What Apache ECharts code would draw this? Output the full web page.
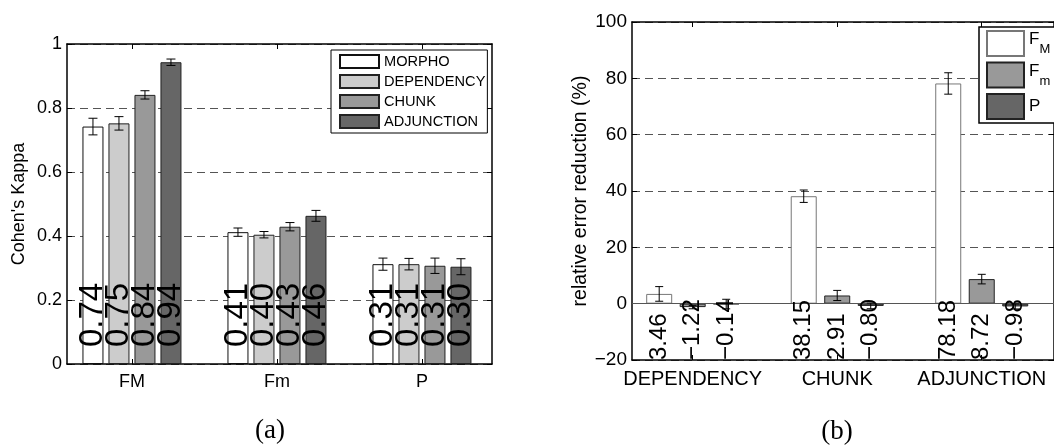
<!DOCTYPE html>
<html><head><meta charset="utf-8">
<script src="https://cdn.jsdelivr.net/npm/echarts@6/dist/echarts.min.js"></script>
<style>html,body{margin:0;padding:0;background:#fff}#c{width:1054px;height:447px}</style>
</head><body><div id="c"></div>
<script>
// ---------- data: panel (a) ----------
const CATS_A = ['FM', 'Fm', 'P'];
const NAMES_A = ['MORPHO', 'DEPENDENCY', 'CHUNK', 'ADJUNCTION'];
const MORPHO = [0.742, 0.412, 0.312];
const DEPENDENCY = [0.752, 0.404, 0.312];
const CHUNK = [0.841, 0.429, 0.307];
const ADJUNCTION = [0.943, 0.463, 0.304];
const MORPHO_ERR = [0.026, 0.013, 0.019];
const DEPENDENCY_ERR = [0.021, 0.010, 0.018];
const CHUNK_ERR = [0.013, 0.013, 0.024];
const ADJUNCTION_ERR = [0.010, 0.017, 0.025];
const TICKS_A = [0, 0.2, 0.4, 0.6, 0.8, 1];

// ---------- data: panel (b) ----------
const CATS_B = ['DEPENDENCY', 'CHUNK', 'ADJUNCTION'];
const NAMES_B = ['FM', 'Fm', 'P'];
const F_M = [3.46, 38.15, 78.18];
const F_m = [-1.22, 2.91, 8.72];
const P_B = [-0.14, -0.80, -0.98];
const F_M_ERR = [2.6, 2.2, 3.8];
const F_m_ERR = [0.6, 1.8, 1.7];
const P_B_ERR = [1.7, 1.0, 0.9];
const TICKS_B = [-20, 0, 20, 40, 60, 80, 100];

// ---------- styling / layout ----------
const VALS_A = [MORPHO, DEPENDENCY, CHUNK, ADJUNCTION];
const ERRS_A = [MORPHO_ERR, DEPENDENCY_ERR, CHUNK_ERR, ADJUNCTION_ERR];
const VALS_B = [F_M, F_m, P_B];
const ERRS_B = [F_M_ERR, F_m_ERR, P_B_ERR];
const COLORS_A = ['#ffffff', '#cccccc', '#999999', '#666666'];
const EDGES_A = ['#111111', '#222222', '#222222', '#222222'];
const COLORS_B = ['#ffffff', '#999999', '#666666'];
const EDGES_B = ['#777777', '#222222', '#222222'];
const FONT = '"Liberation Sans", Arial, Helvetica, sans-serif';
const A_BW = 21, A_GAP = 5;
const B_BW = 26, B_GAP = 7.5;
const A_MIN_X = 0.552, A_MAX_X = 3.483;
const B_MIN_X = 0.58, B_MAX_X = 3.5;
const A_MIN_Y = TICKS_A[0], A_MAX_Y = TICKS_A[TICKS_A.length - 1];
const B_MIN_Y = TICKS_B[0], B_MAX_Y = TICKS_B[TICKS_B.length - 1];

function fmtNum(v) { const s = Math.abs(v).toFixed(2); return v < 0 ? '\u2212' + s : s; }
function fmtTick(v) { return v < 0 ? '\u2212' + Math.abs(v) : String(v); }

function errSeries(xi, yi, valsList, errsList, bw, gap, capW) {
  const n = valsList.length;
  const data = [];
  valsList.forEach((vals, k) => vals.forEach((v, i) => data.push([i + 1, v, errsList[k][i], k])));
  return {
    type: 'custom', name: 'err' + xi, xAxisIndex: xi, yAxisIndex: yi, z: 5, silent: true,
    encode: { x: 0, y: 1 }, data,
    renderItem(params, api) {
      const cat = api.value(0), v = api.value(1), e = api.value(2), k = api.value(3);
      const x = api.coord([cat, v])[0] + (k - (n - 1) / 2) * (bw + gap);
      const yt = api.coord([cat, v + e])[1], yb = api.coord([cat, v - e])[1];
      const st = { stroke: '#000', lineWidth: 1 };
      return { type: 'group', children: [
        { type: 'line', shape: { x1: x, y1: yt, x2: x, y2: yb }, style: st },
        { type: 'line', shape: { x1: x - capW / 2, y1: yt, x2: x + capW / 2, y2: yt }, style: st },
        { type: 'line', shape: { x1: x - capW / 2, y1: yb, x2: x + capW / 2, y2: yb }, style: st }
      ] };
    }
  };
}

function xAxes(gi, min, max, cats, fs) {
  const common = { type: 'value', gridIndex: gi, min, max, splitLine: { show: false },
    axisLine: { show: true, onZero: false, lineStyle: { color: '#000', width: 1.5 } },
    axisTick: { show: true, inside: true, length: 5, customValues: [1, 2, 3], lineStyle: { color: '#000' } } };
  return [
    Object.assign({}, common, { position: 'bottom',
      axisLabel: { show: true, customValues: [1, 2, 3], formatter: v => cats[Math.round(v) - 1], margin: 9, fontSize: fs, color: '#000', fontFamily: FONT } }),
    Object.assign({}, common, { position: 'top', axisLabel: { show: false } })
  ];
}
function yAxes(gi, min, max, interval, fs, name, nameGap, nfs) {
  const common = { type: 'value', gridIndex: gi, min, max, interval,
    axisLine: { show: true, onZero: false, lineStyle: { color: '#000', width: 1.5 } },
    axisTick: { show: true, inside: true, length: 5, lineStyle: { color: '#000' } } };
  return [
    Object.assign({}, common, { position: 'left',
      axisLabel: { show: true, margin: 5, fontSize: fs, color: '#000', fontFamily: FONT, formatter: fmtTick },
      splitLine: { show: true, lineStyle: { type: [8, 5], color: '#555', width: 1 } },
      name, nameLocation: 'middle', nameGap, nameTextStyle: { fontSize: nfs, color: '#000', fontFamily: FONT } }),
    Object.assign({}, common, { position: 'right', axisLabel: { show: false }, splitLine: { show: false } })
  ];
}

const series = [];
NAMES_A.forEach((nm, k) => series.push({
  type: 'bar', name: nm, xAxisIndex: 0, yAxisIndex: 0,
  data: VALS_A[k].map((v, i) => [i + 1, v]),
  barWidth: A_BW, barGap: (A_GAP / A_BW * 100) + '%',
  itemStyle: { color: COLORS_A[k], borderColor: EDGES_A[k], borderWidth: 1 },
  label: { show: true, position: 'insideBottom', distance: 17, rotate: 90, align: 'left', verticalAlign: 'middle',
    fontSize: 33, fontFamily: FONT, color: '#000', formatter: p => fmtNum(p.value[1]) },
  emphasis: { disabled: true }
}));
series.push(errSeries(0, 0, VALS_A, ERRS_A, A_BW, A_GAP, 9));

NAMES_B.forEach((nm, k) => {
  const s = {
    type: 'bar', name: nm, xAxisIndex: 2, yAxisIndex: 2,
    data: VALS_B[k].map((v, i) => [i + 1, v]),
    barWidth: B_BW, barGap: (B_GAP / B_BW * 100) + '%',
    itemStyle: { color: COLORS_B[k], borderColor: EDGES_B[k], borderWidth: 1 },
    emphasis: { disabled: true }
  };
  if (k === 0) s.markLine = { silent: true, symbol: ['none', 'none'], label: { show: false },
    lineStyle: { type: 'solid', color: '#555', width: 1 }, data: [{ yAxis: 0 }] };
  series.push(s);
});
series.push(errSeries(2, 2, VALS_B, ERRS_B, B_BW, B_GAP, 8));
(function () {
  const n = VALS_B.length, data = [];
  VALS_B.forEach((vals, k) => vals.forEach((v, i) => data.push([i + 1, v, k])));
  series.push({
    type: 'custom', name: 'labelsB', xAxisIndex: 2, yAxisIndex: 2, z: 6, silent: true,
    encode: { x: 0, y: 1 }, data,
    renderItem(params, api) {
      const cat = api.value(0), v = api.value(1), k = api.value(2);
      const base = api.coord([cat, B_MIN_Y]);
      const x = base[0] + (k - (n - 1) / 2) * (B_BW + B_GAP);
      return { type: 'text', x, y: base[1], rotation: Math.PI / 2,
        style: { text: fmtNum(v), x: 0, y: 0, fontSize: 24, fontFamily: FONT, fill: '#000',
          align: 'left', verticalAlign: 'middle', textAlign: 'left', textVerticalAlign: 'middle' } };
    }
  });
})();

const option = {
  animation: false,
  backgroundColor: '#fff',
  textStyle: { fontFamily: FONT },
  grid: [
    { left: 67, top: 44, width: 425, height: 320 },
    { left: 632, top: 22, width: 425, height: 338 }
  ],
  xAxis: [].concat(xAxes(0, A_MIN_X, A_MAX_X, CATS_A, 18), xAxes(1, B_MIN_X, B_MAX_X, CATS_B, 20)),
  yAxis: [].concat(yAxes(0, A_MIN_Y, A_MAX_Y, 0.2, 18, "Cohen's Kappa", 39, 18),
                   yAxes(1, B_MIN_Y, B_MAX_Y, 20, 19, 'relative error reduction (%)', 35, 19.5)),
  legend: [
    { data: NAMES_A, orient: 'vertical', left: 331, top: 50, itemWidth: 39, itemHeight: 13, itemGap: 5,
      padding: [4, 2, 4, 8], borderColor: '#000', borderWidth: 1, backgroundColor: '#fff', icon: 'rect',
      selectedMode: false, textStyle: { fontSize: 14.6, color: '#000', fontFamily: FONT } },
    { data: NAMES_B, orient: 'vertical', left: 979, top: 27, itemWidth: 37, itemHeight: 25, itemGap: 2.5,
      padding: [3, 30, 3, 7], borderColor: '#000', borderWidth: 1.5, backgroundColor: '#fff', icon: 'rect',
      selectedMode: false,
      formatter: nm => nm === 'FM' ? '{a|F}{b|M}' : nm === 'Fm' ? '{a|F}{b|m}' : '{c|P}',
      textStyle: { color: '#000', fontFamily: FONT, height: 25, rich: {
        a: { fontSize: 17, lineHeight: 14, padding: [0, 0, 11, 0], verticalAlign: 'top', color: '#000', fontFamily: FONT },
        b: { fontSize: 13, lineHeight: 13, padding: [12, 0, 0, 0], verticalAlign: 'top', color: '#000', fontFamily: FONT },
        c: { fontSize: 17, lineHeight: 25, color: '#000', fontFamily: FONT } } } }
  ],
  graphic: [
    { type: 'text', x: 270, y: 431, style: { text: '(a)', fontSize: 27, fontFamily: '"Liberation Serif", "DejaVu Serif", serif', fill: '#000', align: 'center', verticalAlign: 'middle', textAlign: 'center', textVerticalAlign: 'middle' } },
    { type: 'text', x: 837, y: 432, style: { text: '(b)', fontSize: 27, fontFamily: '"Liberation Serif", "DejaVu Serif", serif', fill: '#000', align: 'center', verticalAlign: 'middle', textAlign: 'center', textVerticalAlign: 'middle' } }
  ],
  series
};
const chart = echarts.init(document.getElementById('c'));
chart.setOption(option);
</script>
</body></html>
